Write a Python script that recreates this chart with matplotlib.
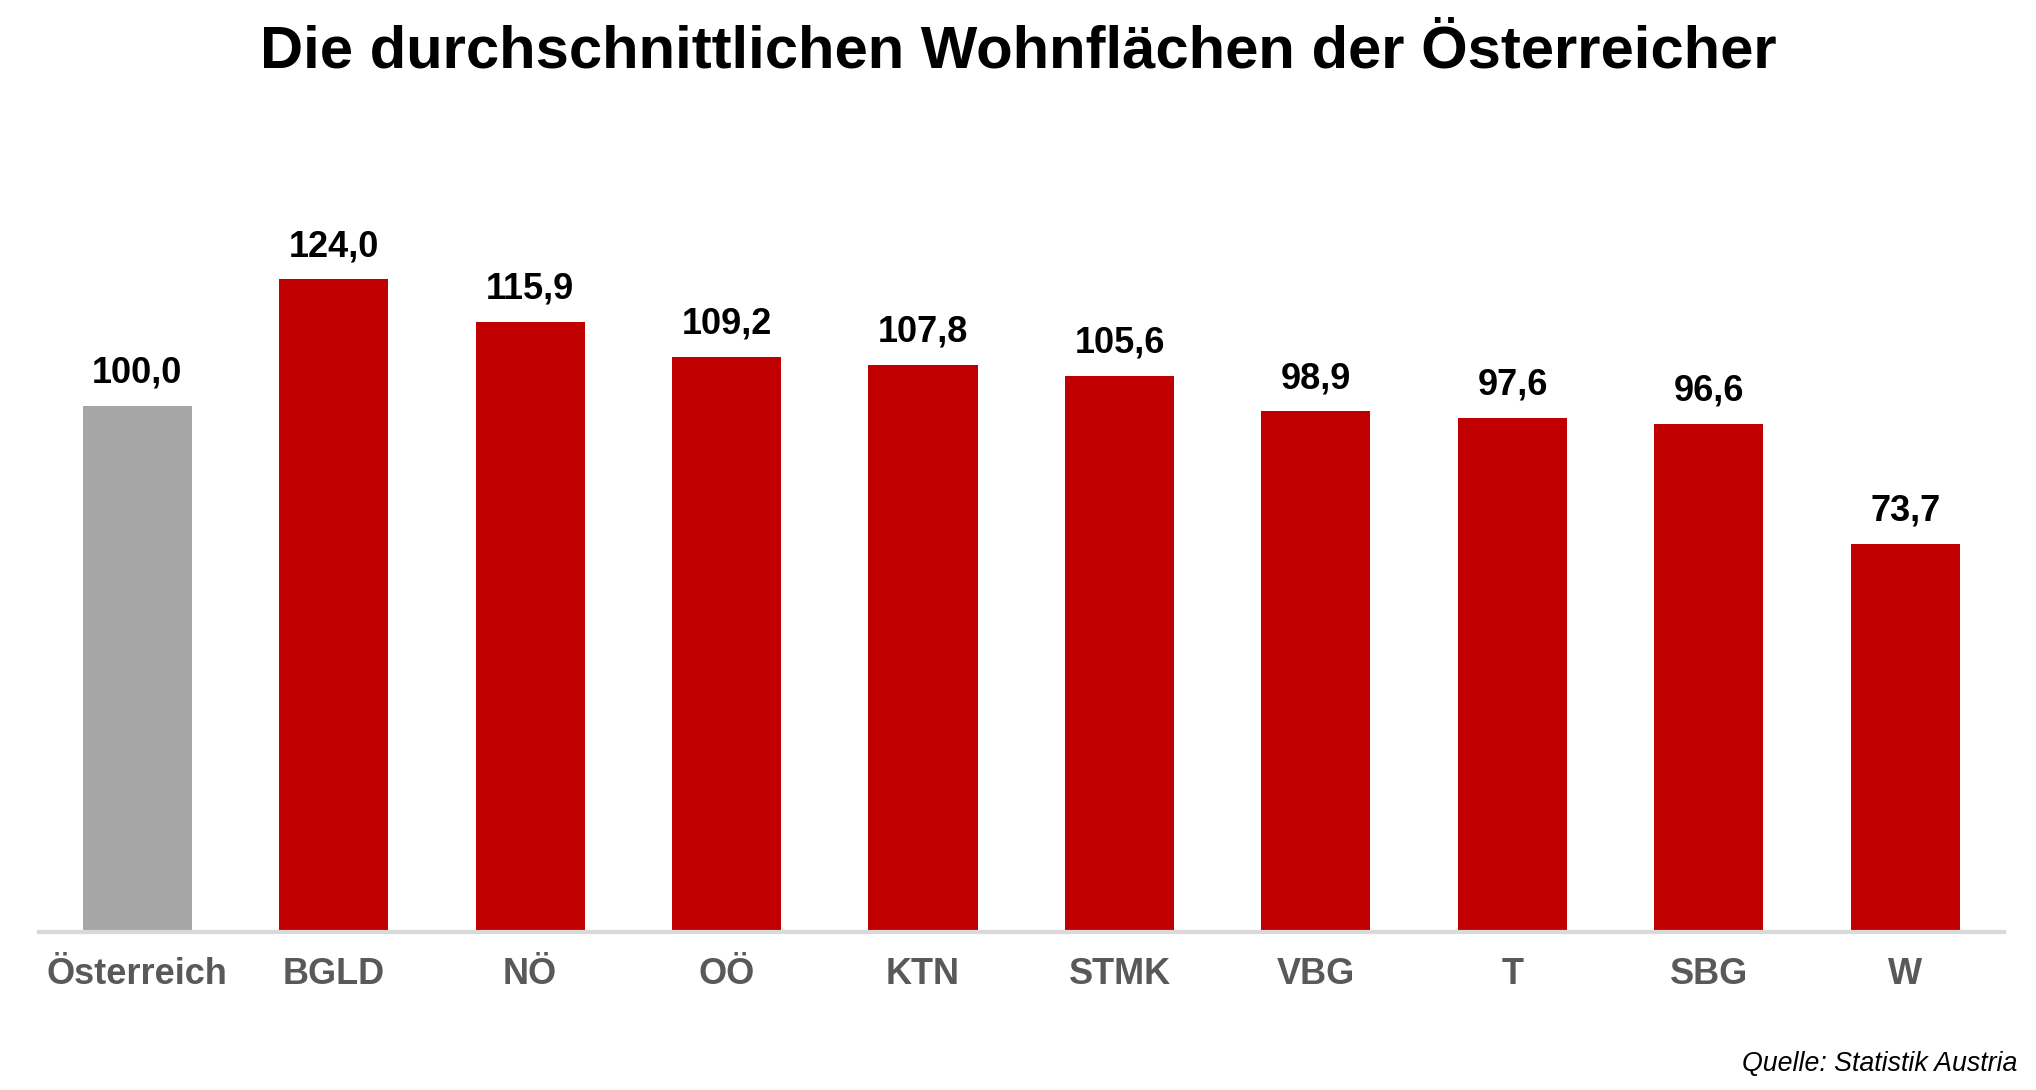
import matplotlib
matplotlib.use("Agg")
import matplotlib.pyplot as plt

plt.rcParams['font.family'] = ['Liberation Sans', 'DejaVu Sans']

regions = ["Österreich", "BGLD", "NÖ", "OÖ", "KTN", "STMK", "VBG", "T", "SBG", "W"]
values = [100.0, 124.0, 115.9, 109.2, 107.8, 105.6, 98.9, 97.6, 96.6, 73.7]
bar_colors = ["#A6A6A6"] + ["#C00000"] * 9

fig = plt.figure(figsize=(20.36, 10.9), dpi=100)
ax = fig.add_axes([0.0191, 0.145, 0.965, 0.676])

x = range(len(regions))
bars = ax.bar(x, values, width=0.555, color=bar_colors)

for b, v in zip(bars, values):
    ax.annotate(f"{v:.1f}".replace(".", ","), (b.get_x() + b.get_width() / 2, v),
                xytext=(0, 11), textcoords="offset points", ha="center", va="bottom",
                fontsize=26, fontweight="bold", color="black")

ax.set_xlim(-0.5, len(regions) - 0.5)
ax.set_ylim(0, 140)
ax.set_xticks(list(x))
ax.set_xticklabels(regions, fontsize=26, fontweight="bold", color="#595959")
ax.tick_params(axis="x", length=0, pad=18)
ax.set_yticks([])
for s in ["top", "right", "left"]:
    ax.spines[s].set_visible(False)
ax.spines["bottom"].set_color("#D9D9D9")
ax.spines["bottom"].set_linewidth(3)

fig.text(0.5, 0.952, "Die durchschnittlichen Wohnflächen der Österreicher",
         ha="center", va="center", fontsize=43, fontweight="bold")
fig.text(0.991, 0.024, "Quelle: Statistik Austria", ha="right", va="center",
         fontsize=19.3, style="italic", color="black")

fig.savefig("out.png", dpi=100, facecolor="white")
